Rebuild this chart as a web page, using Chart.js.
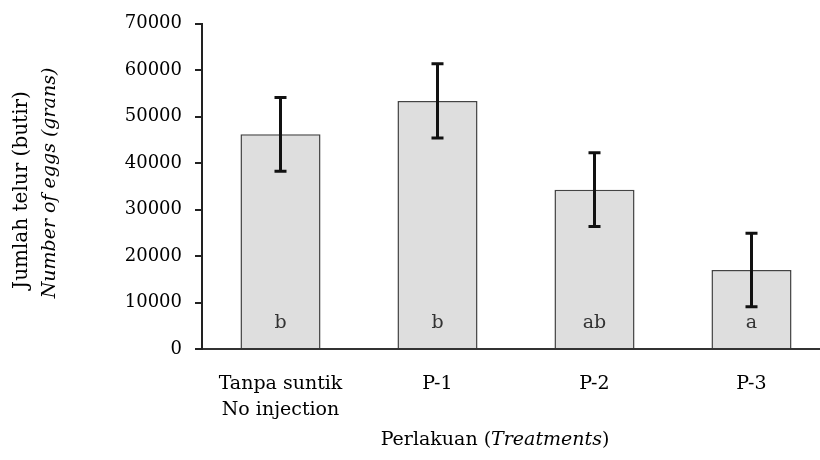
<!DOCTYPE html>
<html>
<head>
<meta charset="utf-8">
<script src="https://cdn.jsdelivr.net/npm/chart.js@4.4.1/dist/chart.umd.min.js"></script>
<style>
  html, body { margin: 0; padding: 0; background: #fff; overflow: hidden; }
  #wrap { width: 830px; height: 460px; position: relative; }
</style>
</head>
<body>
<div id="wrap"><canvas id="c"></canvas></div>
<script>
const categories = [["Tanpa suntik", "No injection"], "P-1", "P-2", "P-3"];
const means = [46200, 53400, 34300, 17000];
const errors = [7950, 8000, 7950, 7900];
const letters = ["b", "b", "ab", "a"];
const yTicks = [0, 10000, 20000, 30000, 40000, 50000, 60000, 70000];

const FONT = "'DejaVu Serif', serif";
const TXT = "#000";

const overlay = {
  id: 'overlay',
  afterDatasetsDraw(chart) {
    const ctx = chart.ctx;
    const y = chart.scales.y;
    const meta = chart.getDatasetMeta(0);
    ctx.save();
    // error bars
    ctx.strokeStyle = '#111';
    ctx.lineWidth = 3;
    meta.data.forEach((bar, i) => {
      const x = bar.x;
      const top = y.getPixelForValue(means[i] + errors[i]);
      const bot = y.getPixelForValue(means[i] - errors[i]);
      ctx.beginPath();
      ctx.moveTo(x, top); ctx.lineTo(x, bot);
      ctx.moveTo(x - 6, top); ctx.lineTo(x + 6, top);
      ctx.moveTo(x - 6, bot); ctx.lineTo(x + 6, bot);
      ctx.stroke();
    });
    // letters
    ctx.fillStyle = '#333';
    ctx.font = "19px " + FONT;
    ctx.textAlign = 'center';
    ctx.textBaseline = 'middle';
    meta.data.forEach((bar, i) => {
      ctx.fillText(letters[i], bar.x, y.getPixelForValue(0) - 26);
    });
    ctx.restore();
  },
  afterDraw(chart) {
    const ctx = chart.ctx;
    ctx.save();
    ctx.fillStyle = TXT;
    ctx.textBaseline = 'middle';
    // y title (rotated, two lines)
    ctx.save();
    ctx.translate(22, 190);
    ctx.rotate(-Math.PI / 2);
    ctx.textAlign = 'center';
    ctx.font = "20px " + FONT;
    ctx.fillText("Jumlah telur (butir)", 0, 0);
    ctx.restore();
    ctx.save();
    ctx.translate(50, 183);
    ctx.rotate(-Math.PI / 2);
    ctx.textAlign = 'center';
    ctx.font = "italic 19px " + FONT;
    ctx.fillText("Number of eggs (grans)", 0, 0);
    ctx.restore();
    // x title with mixed styles
    const parts = [["Perlakuan (", "19px " + FONT], ["Treatments", "italic 19px " + FONT], [")", "19px " + FONT]];
    let total = 0;
    parts.forEach(p => { ctx.font = p[1]; total += ctx.measureText(p[0]).width; });
    let x = 495 - total / 2;
    ctx.textAlign = 'left';
    parts.forEach(p => { ctx.font = p[1]; ctx.fillText(p[0], x, 440); x += ctx.measureText(p[0]).width; });
    ctx.restore();
  }
};

new Chart(document.getElementById('c'), {
  type: 'bar',
  data: {
    labels: categories,
    datasets: [{
      data: means,
      backgroundColor: '#dedede',
      borderColor: '#444',
      borderWidth: 1.5,
      barPercentage: 0.51,
      categoryPercentage: 1.0
    }]
  },
  options: {
    responsive: true,
    maintainAspectRatio: false,
    animation: false,
    devicePixelRatio: 1,
    layout: { padding: { top: 20, left: 0, right: 0, bottom: 0 } },
    plugins: { legend: { display: false }, tooltip: { enabled: false } },
    scales: {
      x: {
        grid: { display: false },
        border: { display: true, color: '#333', width: 2 },
        ticks: { color: TXT, font: { family: FONT, size: 19, lineHeight: 1.37 }, padding: 14, maxRotation: 0 },
        afterFit(s) { s.height = 111; }
      },
      y: {
        min: 0, max: 70000,
        afterBuildTicks(s) { s.ticks = yTicks.map(v => ({ value: v })); },
        grid: { drawOnChartArea: false, drawTicks: true, tickLength: 7, color: '#222', lineWidth: 2 },
        border: { display: true, color: '#222', width: 2 },
        ticks: { color: TXT, font: { family: FONT, size: 18 }, padding: 13, callback: v => String(v) },
        afterFit(s) { s.width = 202; }
      }
    }
  },
  plugins: [overlay]
});
</script>
</body>
</html>
